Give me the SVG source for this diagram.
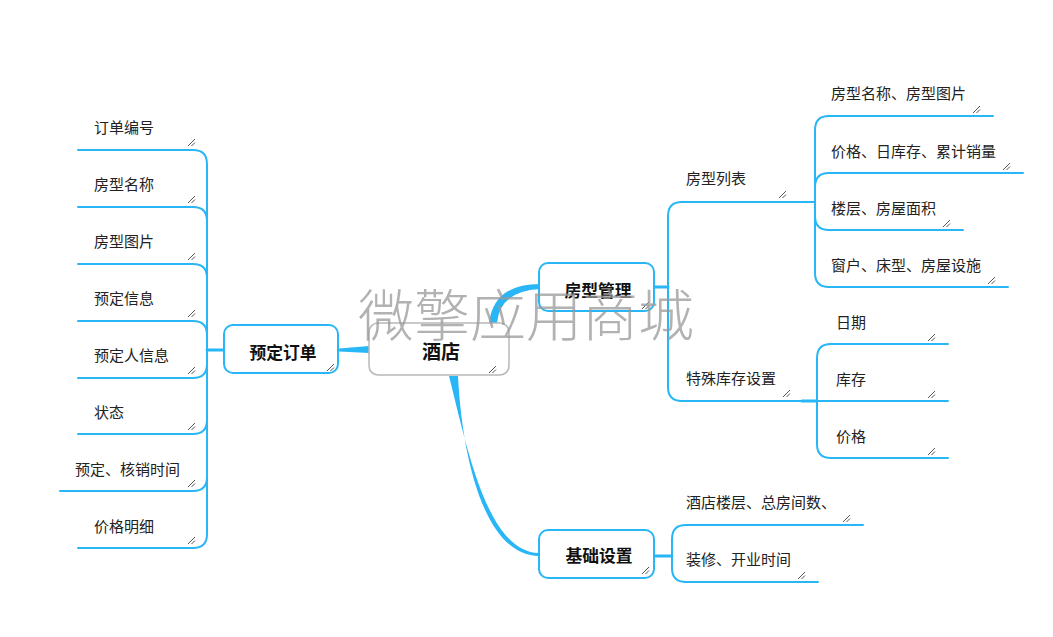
<svg xmlns="http://www.w3.org/2000/svg" width="1053" height="637" viewBox="0 0 1053 637">
<style>
.ln{fill:none;stroke:#29b6f6;stroke-width:2;stroke-linecap:round}
.tp{fill:#fff;stroke:#29b6f6;stroke-width:2}
.rt{fill:#fff;stroke:#b8b8b8;stroke-width:1.5}
.t{font-family:"Noto Sans CJK SC","Noto Sans",sans-serif;font-size:15px;fill:#222}
.tb{font-family:"Noto Sans CJK SC","Noto Sans",sans-serif;font-size:16.8px;font-weight:bold;fill:#111;text-anchor:middle}
.hd{fill:none;stroke:#555;stroke-width:1}
.wm{font-family:"Noto Sans CJK SC","Noto Sans",sans-serif;font-size:56px;font-weight:300;fill:#999;opacity:0.75}
</style>
<defs>
<path id="h" d="M0,7 L7,0 M3.5,7 L7,3.5"/>
</defs>
<rect width="1053" height="637" fill="#fff"/>
<g id="connectors">
<path d="M489,323 Q494,284 540,284 L540,289 Q500,291 497,323 Z" fill="#29b6f6"/>
<path d="M339,348.5 L369,346 L369,353 L339,351.5 Z" fill="#29b6f6"/>
<path d="M449,376 C468,452 488,552 539,553 L539,556 C484,556 462,456 458,376 Z" fill="#29b6f6"/>
<path class="ln" d="M223,350 L207,350" style="stroke-width:3"/>
<path class="ln" d="M207,350 L207,164 Q207,150 193,150 L78,150"/>
<path class="ln" d="M207,350 L207,221 Q207,207 193,207 L78,207"/>
<path class="ln" d="M207,350 L207,278 Q207,264 193,264 L78,264"/>
<path class="ln" d="M207,350 L207,335 Q207,321 193,321 L78,321"/>
<path class="ln" d="M207,350 L207,364 Q207,378 193,378 L78,378"/>
<path class="ln" d="M207,350 L207,420 Q207,434 193,434 L78,434"/>
<path class="ln" d="M207,350 L207,477 Q207,491 193,491 L60,491"/>
<path class="ln" d="M207,350 L207,534 Q207,548 193,548 L78,548"/>
<path class="ln" d="M655,287 L668,287" style="stroke-width:3"/>
<path class="ln" d="M668,287 L668,216 Q668,202 682,202 L815,202"/>
<path class="ln" d="M668,287 L668,387 Q668,401 682,401 L817,401"/>
<path class="ln" d="M802,401 L817,401" style="stroke-width:3"/>
<path class="ln" d="M815,202 L815,130 Q815,116 829,116 L993,116"/>
<path class="ln" d="M815,202 L815,187 Q815,173 829,173 L1023,173"/>
<path class="ln" d="M815,202 L815,216 Q815,230 829,230 L963,230"/>
<path class="ln" d="M815,202 L815,273 Q815,287 829,287 L1008,287"/>
<path class="ln" d="M817,401 L817,358 Q817,344 831,344 L948,344"/>
<path class="ln" d="M817,401 L948,401"/>
<path class="ln" d="M817,401 L817,444 Q817,458 831,458 L948,458"/>
<path class="ln" d="M654,556 L672,556" style="stroke-width:3"/>
<path class="ln" d="M672,556 L672,539 Q672,525 686,525 L863,525"/>
<path class="ln" d="M672,556 L672,568 Q672,582 686,582 L818,582"/>
</g>
<g id="root">
<rect class="rt" x="369" y="323" width="140" height="52" rx="9"/>
<text class="tb" x="441" y="359" style="font-size:19px">酒店</text>
<use href="#h" class="hd" x="489" y="366"/>
</g>
<g id="n-fxgl">
<rect class="tp" x="539" y="263" width="115" height="48" rx="9"/>
<text class="tb" x="598" y="297">房型管理</text>
<use href="#h" class="hd" x="642" y="302"/>
</g>
<g id="n-ydd">
<rect class="tp" x="224" y="325" width="114" height="48" rx="9"/>
<text class="tb" x="283" y="359">预定订单</text>
<use href="#h" class="hd" x="327" y="364"/>
</g>
<g id="n-jcsz">
<rect class="tp" x="539" y="530" width="115" height="48" rx="9"/>
<text class="tb" x="599" y="562">基础设置</text>
<use href="#h" class="hd" x="642" y="567"/>
</g>
<g id="n-l1"><text class="t" x="94" y="133">订单编号</text><use href="#h" class="hd" x="188" y="139"/></g>
<g id="n-l2"><text class="t" x="94" y="190">房型名称</text><use href="#h" class="hd" x="188" y="196"/></g>
<g id="n-l3"><text class="t" x="94" y="247">房型图片</text><use href="#h" class="hd" x="188" y="253"/></g>
<g id="n-l4"><text class="t" x="94" y="304">预定信息</text><use href="#h" class="hd" x="188" y="310"/></g>
<g id="n-l5"><text class="t" x="94" y="361">预定人信息</text><use href="#h" class="hd" x="188" y="367"/></g>
<g id="n-l6"><text class="t" x="94" y="418">状态</text><use href="#h" class="hd" x="188" y="423"/></g>
<g id="n-l7"><text class="t" x="75" y="475">预定、核销时间</text><use href="#h" class="hd" x="188" y="480"/></g>
<g id="n-l8"><text class="t" x="94" y="532">价格明细</text><use href="#h" class="hd" x="188" y="537"/></g>
<g id="n-fxlb"><text class="t" x="686" y="184">房型列表</text><use href="#h" class="hd" x="779" y="191"/></g>
<g id="n-tskc"><text class="t" x="686" y="384">特殊库存设置</text><use href="#h" class="hd" x="783" y="390"/></g>
<g id="n-r1"><text class="t" x="831" y="99">房型名称、房型图片</text><use href="#h" class="hd" x="973" y="106"/></g>
<g id="n-r2"><text class="t" x="831" y="157">价格、日库存、累计销量</text><use href="#h" class="hd" x="1003" y="163"/></g>
<g id="n-r3"><text class="t" x="831" y="214">楼层、房屋面积</text><use href="#h" class="hd" x="943" y="220"/></g>
<g id="n-r4"><text class="t" x="831" y="271">窗户、床型、房屋设施</text><use href="#h" class="hd" x="988" y="277"/></g>
<g id="n-s1"><text class="t" x="836" y="328">日期</text><use href="#h" class="hd" x="928" y="334"/></g>
<g id="n-s2"><text class="t" x="836" y="385">库存</text><use href="#h" class="hd" x="928" y="391"/></g>
<g id="n-s3"><text class="t" x="836" y="442">价格</text><use href="#h" class="hd" x="928" y="448"/></g>
<g id="n-j1"><text class="t" x="686" y="508">酒店楼层、总房间数、</text><use href="#h" class="hd" x="843" y="515"/></g>
<g id="n-j2"><text class="t" x="686" y="565">装修、开业时间</text><use href="#h" class="hd" x="798" y="572"/></g>
<text class="wm" x="358" y="336">微擎应用商城</text>
</svg>
